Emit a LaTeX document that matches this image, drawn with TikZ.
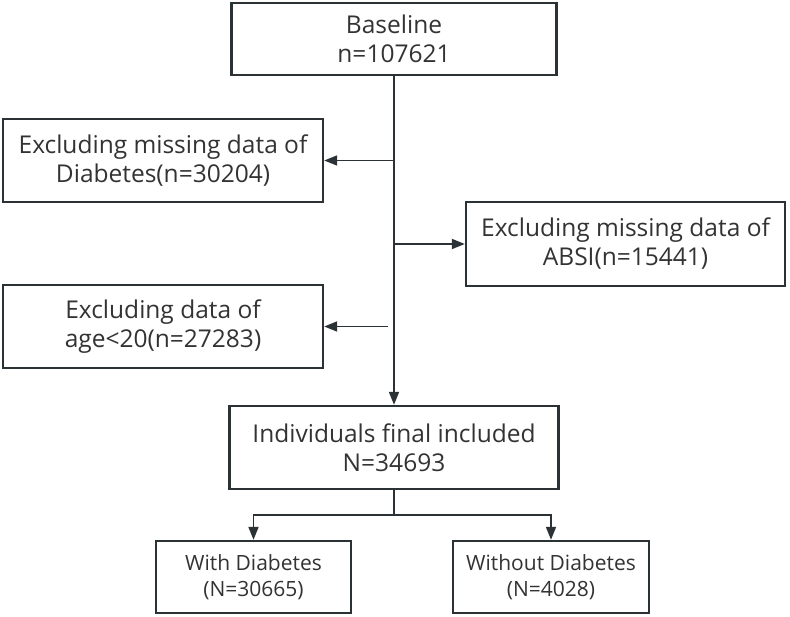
\documentclass[tikz,border=0pt]{standalone}
\usepackage{fontspec}
\setmainfont{Open Sans}
\usetikzlibrary{arrows.meta,positioning}
\definecolor{flowline}{HTML}{2B3236}
\definecolor{flowtext}{HTML}{333333}
\tikzset{
  flowbox/.style={draw=flowline, line width=2.4pt, fill=white, align=center,
                  inner sep=0pt, text=flowtext, font=\fontsize{24.5}{29}\selectfont},
  smallbox/.style={flowbox, font=\fontsize{21}{26}\selectfont},
  flowarr/.style={-{Triangle[length=13pt,width=10pt]}, line width=1.8pt, draw=flowline},
  joinline/.style={line width=1.8pt, draw=flowline},
}
\begin{document}
\begin{tikzpicture}[x=1pt,y=-1pt]
  \useasboundingbox (0,0) rectangle (790,617);
  % main column
  \node[flowbox, minimum width=325pt, minimum height=72pt] (base) at (394,39) {Baseline\\n=107621};
  \node[flowbox, minimum width=329pt, minimum height=83pt] (final) at (394,447.5) {Individuals final included\\N=34693};
  % exclusions
  \node[flowbox, minimum width=320pt, minimum height=83pt] (exdia) at (163,160.5) {Excluding missing data of\\Diabetes(n=30204)};
  \node[flowbox, minimum width=319pt, minimum height=84pt] (exabsi) at (625.5,244) {Excluding missing data of\\ABSI(n=15441)};
  \node[flowbox, minimum width=320pt, minimum height=83pt] (exage) at (163,326.5) {Excluding data of\\age<20(n=27283)};
  % groups
  \node[smallbox, minimum width=195pt, minimum height=72pt] (withd) at (253.5,577) {With Diabetes\\(N=30665)};
  \node[smallbox, minimum width=196pt, minimum height=72pt] (withoutd) at (551,577) {Without Diabetes\\(N=4028)};
  % connectors
  \draw[flowarr] (base.south) -- (final.north);
  \draw[flowarr] (base.south |- exdia.east) -- (exdia.east);
  \draw[flowarr] (base.south |- exabsi.west) -- (exabsi.west);
  \coordinate (agefrom) at (388,326.5);
  \draw[flowarr] (agefrom) -- (exage.east);
  \coordinate (split) at (394,515);
  \draw[joinline] (final.south) -- (split);
  \draw[flowarr] (split) -| (withd.north);
  \draw[flowarr] (split) -| (withoutd.north);
\end{tikzpicture}
\end{document}
